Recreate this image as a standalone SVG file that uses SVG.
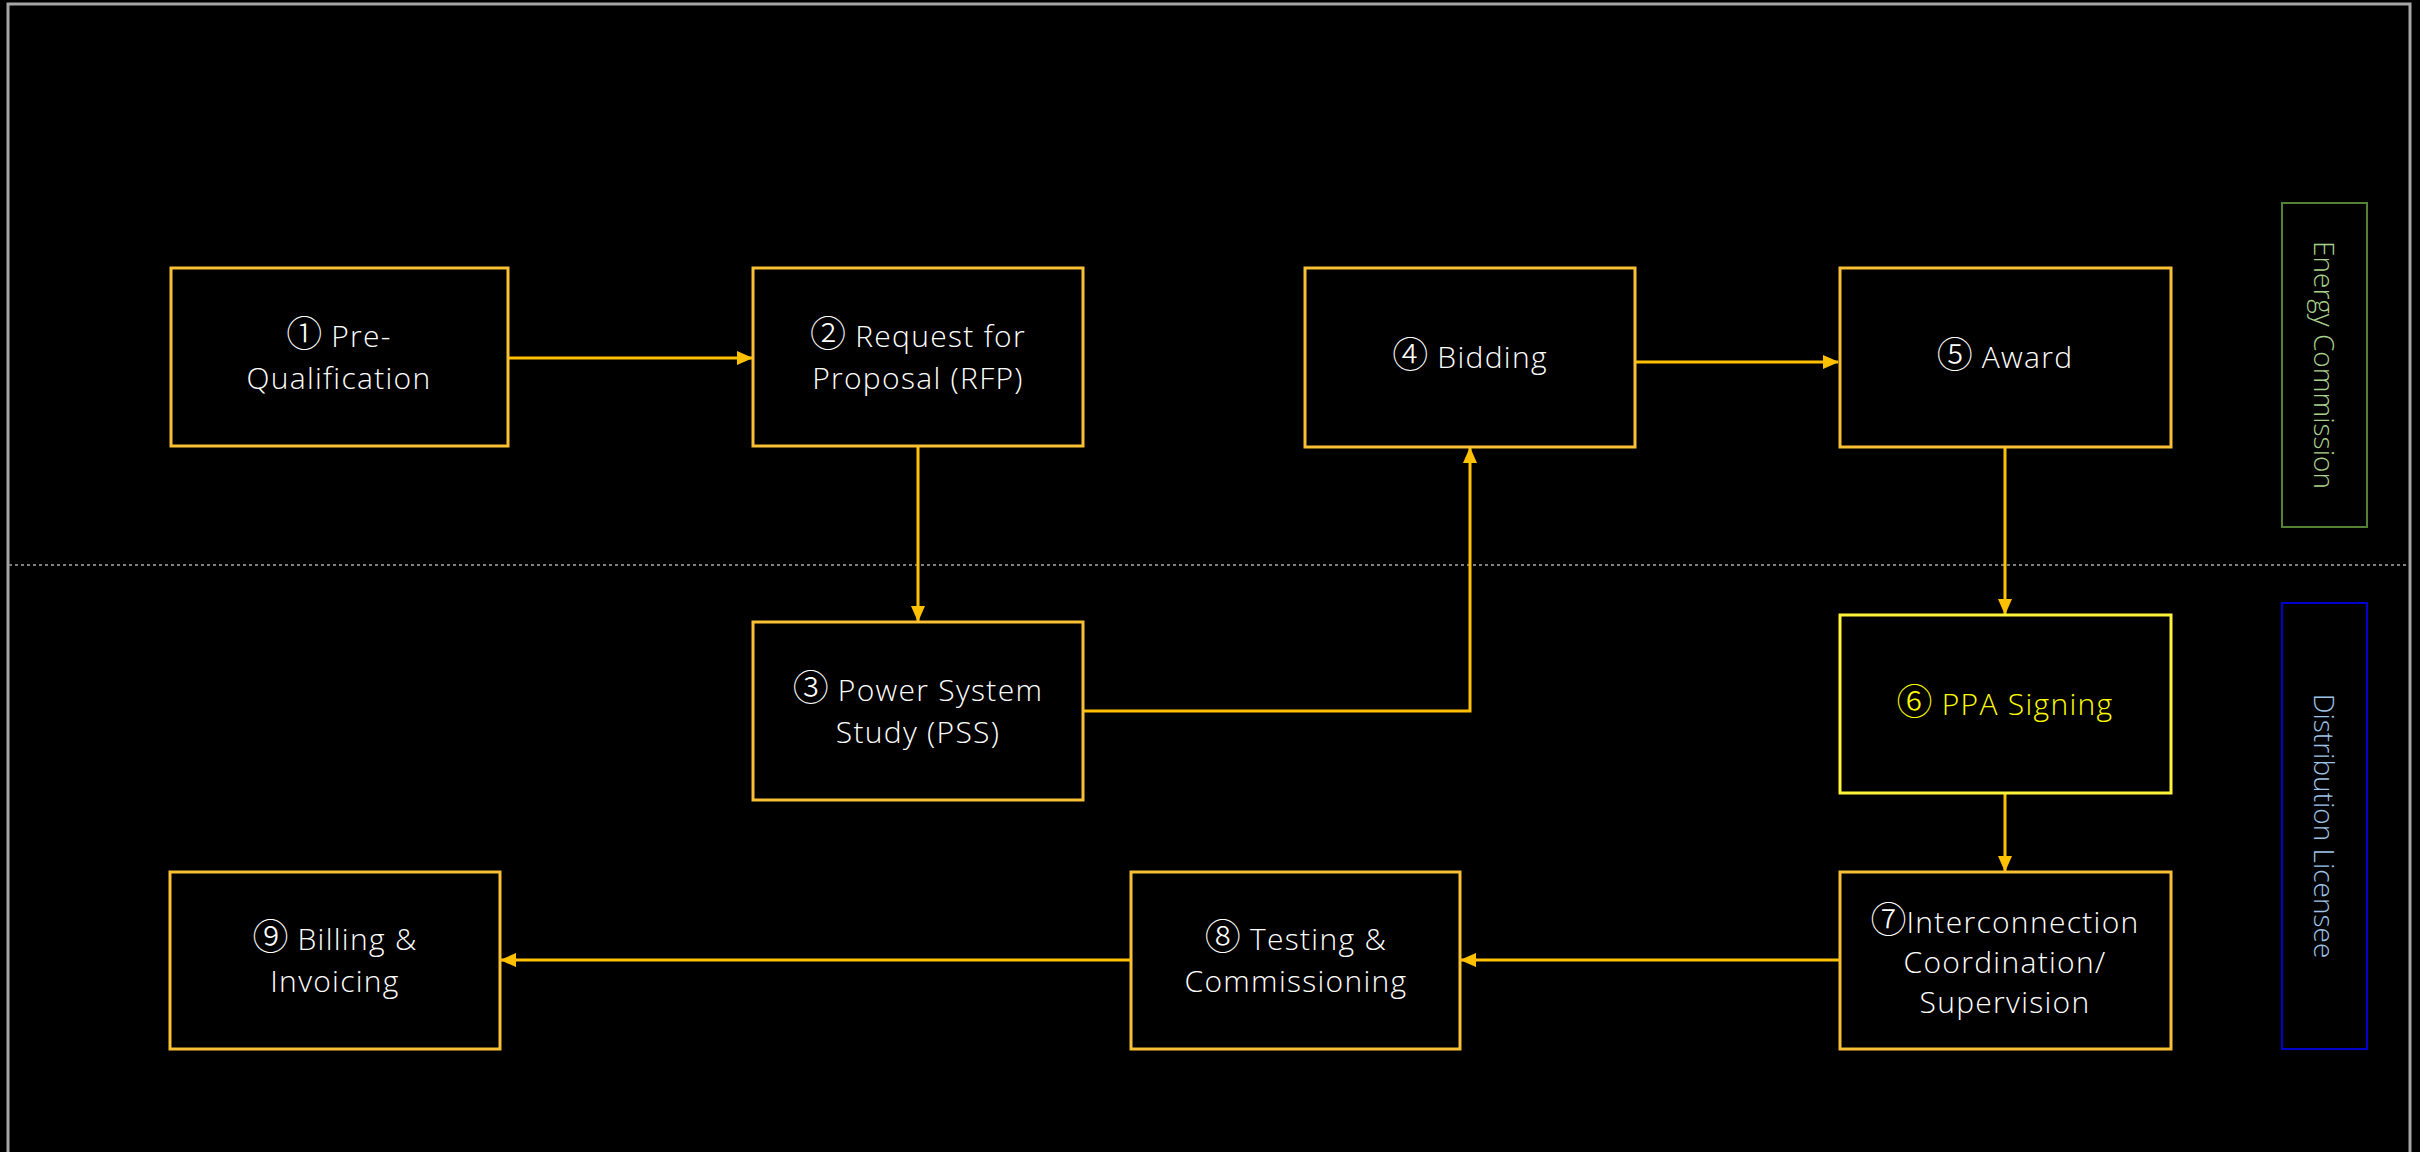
<svg xmlns="http://www.w3.org/2000/svg" width="2420" height="1152" viewBox="0 0 2420 1152">
<defs>
<style>
.box{fill:#000;stroke:#F8C032;stroke-width:3}
.box6{fill:#000;stroke:#FFF43A;stroke-width:3}
.t{font-family:"Open Sans","Noto Sans",sans-serif;font-size:30px;font-weight:300;letter-spacing:1.3px;fill:#fff;text-anchor:middle}
.t6{fill:#FFFF00}
.n{font-family:"Noto Sans CJK JP","Noto Sans CJK SC",sans-serif;font-size:36px;font-weight:300;letter-spacing:0}
.c{fill:none;stroke:#FFC000;stroke-width:3}
.lane{font-family:"Open Sans","Noto Sans",sans-serif;font-size:28px;font-weight:300;text-anchor:middle}
</style>
<marker id="ah" viewBox="0 0 16 14" refX="15" refY="7" markerWidth="16" markerHeight="14" markerUnits="userSpaceOnUse" orient="auto">
<path d="M0,0 L16,7 L0,14 Z" fill="#FFC000"/>
</marker>
</defs>
<rect x="0" y="0" width="2420" height="1152" fill="#000"/>
<path d="M8,1152 V4 H2410 V1152" fill="none" stroke="#A6A6A6" stroke-width="3"/>
<line x1="9" y1="565" x2="2409" y2="565" stroke="#7F7F7F" stroke-width="2" stroke-dasharray="3,3"/>

<g id="lane-ec">
<rect x="2282" y="203" width="85" height="324" fill="#000" stroke="#548235" stroke-width="2"/>
<text class="lane" fill="#A9D18E" transform="translate(2314,365) rotate(90)">Energy Commission</text>
</g>
<g id="lane-dl">
<rect x="2282" y="603" width="85" height="446" fill="#000" stroke="#0000CC" stroke-width="2"/>
<text class="lane" fill="#9DC3E6" transform="translate(2314,826) rotate(90)">Distribution Licensee</text>
</g>

<g id="connectors">
<path class="c" d="M508,358 H752" marker-end="url(#ah)"/>
<path class="c" d="M918,446 V621" marker-end="url(#ah)"/>
<path class="c" d="M1083,711 H1470 V448" marker-end="url(#ah)"/>
<path class="c" d="M1628,362 H1838" marker-end="url(#ah)"/>
<path class="c" d="M2005,447 V614" marker-end="url(#ah)"/>
<path class="c" d="M2005,793 V871" marker-end="url(#ah)"/>
<path class="c" d="M1839,960 H1461" marker-end="url(#ah)"/>
<path class="c" d="M1131,960 H501" marker-end="url(#ah)"/>
</g>

<g id="n1">
<rect class="box" x="171" y="268" width="337" height="178"/>
<text class="t" x="339" y="347"><tspan class="n">①</tspan>  Pre-</text>
<text class="t" x="339" y="389">Qualification</text>
</g>
<g id="n2">
<rect class="box" x="753" y="268" width="330" height="178"/>
<text class="t" x="918" y="347"><tspan class="n">②</tspan> Request for</text>
<text class="t" x="918" y="389">Proposal (RFP)</text>
</g>
<g id="n3">
<rect class="box" x="753" y="622" width="330" height="178"/>
<text class="t" x="918" y="701"><tspan class="n">③</tspan> Power System</text>
<text class="t" x="918" y="743">Study (PSS)</text>
</g>
<g id="n4">
<rect class="box" x="1305" y="268" width="330" height="179"/>
<text class="t" x="1470" y="368"><tspan class="n">④</tspan> Bidding</text>
</g>
<g id="n5">
<rect class="box" x="1840" y="268" width="331" height="179"/>
<text class="t" x="2005" y="368"><tspan class="n">⑤</tspan> Award</text>
</g>
<g id="n6">
<rect class="box6" x="1840" y="615" width="331" height="178"/>
<text class="t t6" x="2005" y="715"><tspan class="n">⑥</tspan> PPA Signing</text>
</g>
<g id="n7">
<rect class="box" x="1840" y="872" width="331" height="177"/>
<text class="t" x="2005" y="933"><tspan class="n">⑦</tspan>Interconnection</text>
<text class="t" x="2005" y="973">Coordination/</text>
<text class="t" x="2005" y="1013">Supervision</text>
</g>
<g id="n8">
<rect class="box" x="1131" y="872" width="329" height="177"/>
<text class="t" x="1296" y="950"><tspan class="n">⑧</tspan> Testing &amp;</text>
<text class="t" x="1296" y="992">Commissioning</text>
</g>
<g id="n9">
<rect class="box" x="170" y="872" width="330" height="177"/>
<text class="t" x="335" y="950"><tspan class="n">⑨</tspan> Billing &amp;</text>
<text class="t" x="335" y="992">Invoicing</text>
</g>
</svg>
